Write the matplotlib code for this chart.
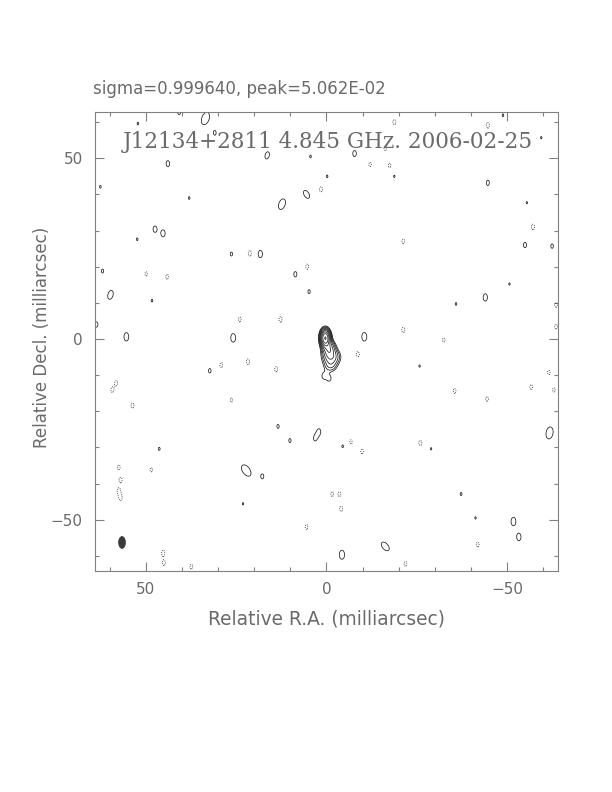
import numpy as np
import matplotlib
matplotlib.use("Agg")
import matplotlib.pyplot as plt
from matplotlib.patches import Ellipse
from matplotlib.ticker import MultipleLocator, FixedLocator

# ---------------- data ----------------
source_name = "J12134+2811"
freq_label = "4.845 GHz."
obs_date = "2006-02-25"
sigma_txt = "0.999640"
peak_txt = "5.062E-02"
sigma_mjy = 0.99964
lowest_level = 3.0 * sigma_mjy          # mJy/beam, first contour
n_pos_levels = 9                          # contour levels x sqrt(2)

# restoring beam (mas, deg)
beam_maj = 3.3
beam_min = 1.9
beam_pa = 0.0

# source model components (mas, mJy/beam)
comp_x = [0.3, -0.7, -1.4, -1.1, 0.7, -0.8]
comp_y = [0.3, -2.6, -5.0, -7.6, -10.3, -11.0]
comp_amp = [48.0, 14.0, 10.0, 5.0, 3.6, 3.5]
comp_maj = [3.3, 3.4, 3.4, 3.0, 2.4, 2.2]
comp_min = [1.9, 2.7, 3.9, 3.2, 1.8, 1.6]

# residual noise blobs: positions (mas), amplitude in units of lowest level,
# size factor relative to the beam, PA (deg)
pos_x = [40.8, 33.5, 52.2, 30.9, 16.4, 43.9, 4.4, 62.6, 38.0, 12.3,
         5.5, -0.2, 47.5, 45.2, 52.4, 26.3, 18.3, 62.0, 8.6, 4.8,
         59.8, 48.3, 63.7, 55.4, 25.8, -7.8, -18.8, -48.9, -59.5, -44.7,
         -55.5, -55.0, -62.5, -50.7, -44.0, -35.9, -10.5, 32.3, 13.4, 10.1,
         2.0, 3.2, 46.3, 22.2, 17.7, 23.1, -25.8, -61.8, -4.5, -29.0,
         -37.3, -41.3, -51.8, -53.3, -16.3, -4.3]
pos_y = [62.8, 61.0, 59.6, 57.0, 50.8, 48.5, 50.5, 42.1, 39.0, 37.3,
         40.0, 45.0, 30.4, 29.2, 27.6, 23.5, 23.5, 18.8, 17.9, 13.1,
         12.2, 10.6, 4.0, 0.6, 0.3, 51.3, 45.0, 61.9, 55.7, 43.2,
         37.7, 26.0, 25.7, 15.2, 11.5, 9.7, 0.6, -8.8, -24.2, -28.1,
         -25.6, -27.6, -30.4, -36.4, -38.0, -45.6, -7.5, -26.0, -29.7, -30.4,
         -42.9, -49.5, -50.5, -54.8, -57.4, -59.7]
pos_amp = [1.15, 1.32, 1.04, 1.1, 1.3, 1.2, 1.04, 1.04, 1.04, 1.3,
           1.32, 1.04, 1.2, 1.25, 1.04, 1.08, 1.3, 1.08, 1.15, 1.08,
           1.32, 1.04, 1.15, 1.32, 1.34, 1.2, 1.03, 1.04, 1.03, 1.15,
           1.03, 1.15, 1.1, 1.03, 1.3, 1.04, 1.35, 1.1, 1.08, 1.08,
           1.1, 1.03, 1.05, 1.32, 1.08, 1.03, 1.03, 1.32, 1.04, 1.03,
           1.05, 1.03, 1.32, 1.3, 1.32, 1.32]
pos_size = [1.0, 1.7, 1.0, 1.0, 1.0, 1.0, 1.0, 1.0, 1.0, 1.5,
            1.15, 1.0, 1.0, 1.0, 1.0, 1.0, 1.0, 1.0, 1.0, 1.0,
            1.2, 1.0, 1.0, 1.1, 1.1, 1.0, 1.0, 1.0, 1.0, 1.0,
            1.0, 1.0, 1.0, 1.0, 1.0, 1.0, 1.1, 1.0, 1.0, 1.0,
            1.0, 1.0, 1.0, 1.7, 1.0, 1.0, 1.0, 1.6, 1.0, 1.0,
            1.0, 1.0, 1.1, 1.0, 1.35, 1.2]
pos_pa = [0, -20, 0, 0, -15, 0, 0, 0, 0, -20,
          30, 0, 0, 0, 0, 0, 0, 0, 0, 0,
          -15, 0, 0, 0, 0, 0, 0, 0, 0, 0,
          0, 0, 0, 0, 0, 0, 0, 0, 0, 0,
          0, 0, 0, 35, 0, 0, 0, -10, 0, 0,
          0, 0, 0, 0, 40, 0]

neg_x = [1.5, 21.2, 49.9, 44.1, 5.3, 24.0, 12.7, -18.8, -44.7, -12.1,
         -16.3, -17.5, -57.2, -21.3, -63.6, -21.3, -32.5, -63.6, 29.1, 21.7,
         13.9, 58.2, 59.3, 53.7, 26.3, 48.5, 57.5, 57.0, 57.5, 57.0,
         5.5, 45.2, 45.0, 37.4, -8.7, -61.6, -56.7, -63.0, -35.5,
         -44.5, -6.8, -9.9, -26.0, -1.6, -3.6, -4.1, -41.9, -21.9]
neg_y = [41.4, 23.7, 18.0, 17.2, 20.0, 5.4, 5.4, 60.0, 59.1, 48.3,
         52.8, 48.0, 31.0, 27.0, 9.4, 2.5, -0.3, 3.4, -7.2, -6.3,
         -8.4, -12.2, -14.1, -18.4, -16.9, -36.2, -35.5, -39.0, -42.0, -44.0,
         -52.0, -59.2, -62.0, -63.0, -4.2, -9.3, -13.3, -14.1, -14.4,
         -16.6, -28.5, -31.1, -28.8, -42.9, -42.9, -47.0, -56.9, -62.2]
neg_amp = [1.3, 1.35, 1.2, 1.25, 1.3, 1.25, 1.35, 1.3, 1.35, 1.2,
           1.25, 1.25, 1.35, 1.25, 1.25, 1.3, 1.2, 1.25, 1.25, 1.35,
           1.3, 1.25, 1.25, 1.3, 1.2, 1.2, 1.25, 1.3, 1.3, 1.3,
           1.25, 1.35, 1.25, 1.25, 1.3, 1.2, 1.25, 1.2, 1.25,
           1.25, 1.2, 1.25, 1.3, 1.25, 1.25, 1.3, 1.25, 1.25]
neg_size = 0.7

x_range = (64.0, -64.0)
y_range = (-64.2, 62.8)

# ---------------- model image ----------------
def gauss2d(X, Y, x0, y0, amp, fmaj, fmin, pa_deg):
    t = np.deg2rad(pa_deg)
    dx, dy = X - x0, Y - y0
    u = dx * np.sin(t) + dy * np.cos(t)
    v = dx * np.cos(t) - dy * np.sin(t)
    smaj, smin = fmaj / 2.3548, fmin / 2.3548
    return amp * np.exp(-0.5 * ((u / smaj) ** 2 + (v / smin) ** 2))

gx = np.linspace(-65, 65, 866)
gy = np.linspace(-65, 65, 866)
X, Y = np.meshgrid(gx, gy)
Z = np.zeros_like(X)
for x0, y0, a, fmj, fmn in zip(comp_x, comp_y, comp_amp, comp_maj, comp_min):
    Z += gauss2d(X, Y, x0, y0, a, fmj, fmn, 0.0)
for x0, y0, a, sz, pa in zip(pos_x, pos_y, pos_amp, pos_size, pos_pa):
    Z += gauss2d(X, Y, x0, y0, a * lowest_level, beam_maj * sz, beam_min * sz, pa)
for x0, y0, a in zip(neg_x, neg_y, neg_amp):
    Z -= gauss2d(X, Y, x0, y0, a * lowest_level, beam_maj * neg_size,
                 beam_min * neg_size, 0.0)

pos_levels = [lowest_level * 2 ** (k / 2) for k in range(n_pos_levels)]
neg_levels = [-lowest_level]

# ---------------- figure ----------------
W, H = 612, 792
fig = plt.figure(figsize=(W / 100, H / 100), dpi=100)
ax_l, ax_r, ax_t, ax_b = 95.3, 557.5, 112.0, 571.0
ax = fig.add_axes([ax_l / W, 1 - ax_b / H, (ax_r - ax_l) / W, (ax_b - ax_t) / H])

line_col = "#1a1a1a"
ax.contour(X, Y, Z, levels=pos_levels, colors=line_col, linewidths=0.55)
ax.contour(X, Y, Z, levels=neg_levels, colors=line_col, linewidths=0.6,
           linestyles=[(0, (1, 1.5))])

ax.set_xlim(*x_range)
ax.set_ylim(*y_range)

# beam in lower-left corner
bx = x_range[0] - 7.4
by = y_range[0] + 7.9
ax.add_patch(Ellipse((bx, by), width=beam_min, height=beam_maj, angle=-beam_pa,
                     facecolor="#3a3a3a", edgecolor="#3a3a3a", lw=0.5))

frame_col = "#808080"
text_col = "#6a6a6a"
for s in ax.spines.values():
    s.set_color(frame_col)
    s.set_linewidth(0.8)
ax.xaxis.set_major_locator(FixedLocator([50, 0, -50]))
ax.yaxis.set_major_locator(FixedLocator([-50, 0, 50]))
ax.xaxis.set_minor_locator(MultipleLocator(10))
ax.yaxis.set_minor_locator(MultipleLocator(10))
ax.tick_params(which="both", direction="in", top=True, right=True,
               color=frame_col, width=0.8)
ax.tick_params(which="major", length=6.5)
ax.tick_params(which="minor", length=3.2)
ax.tick_params(axis="x", which="major", pad=8, labelsize=11, labelcolor=text_col)
ax.tick_params(axis="y", which="major", pad=9, labelsize=11, labelcolor=text_col)

fig.text(93 / W, 1 - 89 / H, f"sigma={sigma_txt}, peak={peak_txt}",
         ha="left", va="center", fontsize=12, color=text_col)
fig.text(328 / W, 1 - 142 / H, f"{source_name} {freq_label} {obs_date}",
         ha="center", va="center", fontsize=15.5, color="#6a6a6a",
         family="DejaVu Serif")
fig.text(326 / W, 1 - 619 / H, "Relative R.A. (milliarcsec)",
         ha="center", va="center", fontsize=13.4, color=text_col)
fig.text(41.7 / W, 1 - 337 / H, "Relative Decl. (milliarcsec)",
         ha="center", va="center", fontsize=12, color=text_col, rotation=90)

fig.savefig("out.png", dpi=100, facecolor="white")
